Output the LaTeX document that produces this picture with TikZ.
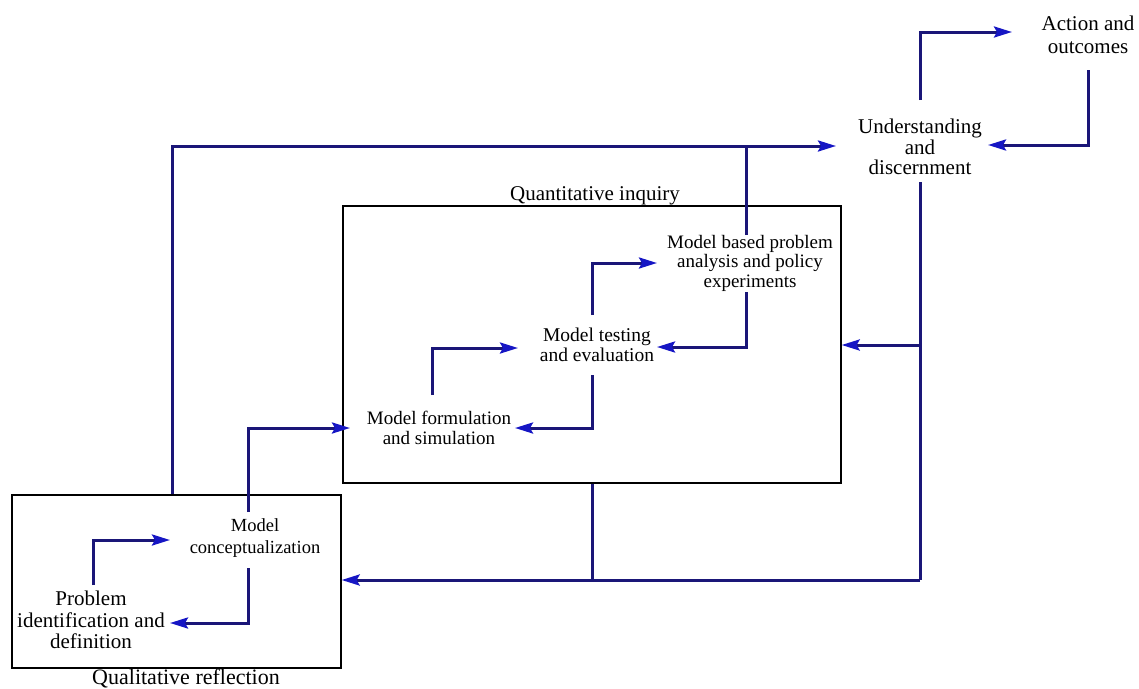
\documentclass[tikz,border=0pt]{standalone}
\usepackage{fontspec}
\setmainfont{Liberation Serif}
\newfontfamily\diagramfont{Liberation Serif}
\usetikzlibrary{arrows.meta,calc}
\definecolor{flowline}{RGB}{26,22,120}
\definecolor{flowtip}{RGB}{22,22,196}
\begin{document}
\begin{tikzpicture}[x=1pt,y=-1pt,
  link/.style={draw=flowline, line width=3pt},
  flow/.style={link, -{Stealth[length=18pt,width=11pt,inset=3pt,color=flowtip]}},
  stage/.style={align=center, inner sep=0pt, font=\diagramfont\fontsize{19}{20}\selectfont},
  frame/.style={draw=black, line width=1.3pt, inner sep=0pt},
  caption/.style={inner sep=0pt}]
\useasboundingbox (0,0) rectangle (1139,688);

% the two phases
\node[frame, minimum width=498pt, minimum height=277pt] (quant) at (592,344.5) {};
\node[frame, minimum width=329pt, minimum height=173pt] (qual) at (176.5,581.5) {};
\node[caption, font=\diagramfont\fontsize{21}{22}\selectfont] (qtlabel) at (595,196) {Quantitative inquiry};
\node[caption, font=\diagramfont\fontsize{22}{23}\selectfont] (qllabel) at (186,679) {Qualitative reflection};

% stages
\node[stage, font=\diagramfont\fontsize{21}{23}\selectfont] (act) at (1088,35) {Action and\\outcomes};
\node[stage, font=\diagramfont\fontsize{21}{20.5}\selectfont] (und) at (920,147) {Understanding\\and\\discernment};
\node[stage, font=\diagramfont\fontsize{19}{19.5}\selectfont] (mbp) at (750,263) {Model based problem\\analysis and policy\\experiments};
\node[stage, font=\diagramfont\fontsize{19.5}{20}\selectfont] (test) at (597,345) {Model testing\\and evaluation};
\node[stage] (form) at (439,428) {Model formulation\\and simulation};
\node[stage, font=\diagramfont\fontsize{18.5}{22}\selectfont] (conc) at (255,538) {Model\\conceptualization};
\node[stage, font=\diagramfont\fontsize{21}{21.5}\selectfont] (prob) at (91,620) {Problem\\identification and\\definition};

% junctions
\coordinate (j1) at (746,146);
\coordinate (j2) at (920,580);
\coordinate (j3) at (920,345);
\coordinate (j4) at (592,580);

% outer loop
\draw[flow] ($(qual.north)+(-4.5,0)$) |- ($(und)+(-84,-1)$);
\draw[link] ($(mbp)+(-4,-28)$) -- (j1);
\draw[flow] ($(und)+(0,-47)$) |- ($(act)+(-76,-3)$);
\draw[flow] ($(act)+(0,35)$) |- ($(und)+(68,-2)$);
\draw[link] ($(und)+(0,35)$) -- (j2);
\draw[flow] (j2) -- (j2 -| qual.east);
\draw[flow] (j3) -- (j3 -| quant.east);
\draw[link] (quant.south) -- (j4);

% quantitative inquiry
\draw[flow] ($(form)+(-7,-33)$) |- ($(test)+(-79,3)$);
\draw[flow] ($(test)+(-5,-30)$) |- ($(mbp)+(-93,0)$);
\draw[flow] ($(mbp)+(-4,29)$) |- ($(test)+(60,2)$);
\draw[flow] ($(test)+(-5,30)$) |- ($(form)+(76,0)$);

% qualitative reflection
\draw[flow] ($(conc)+(-7,-26)$) |- ($(form)+(-89,0)$);
\draw[flow] ($(prob)+(2,-35)$) |- ($(conc)+(-85,2)$);
\draw[flow] ($(conc)+(-7,30)$) |- ($(prob)+(79,3)$);
\end{tikzpicture}
\end{document}
